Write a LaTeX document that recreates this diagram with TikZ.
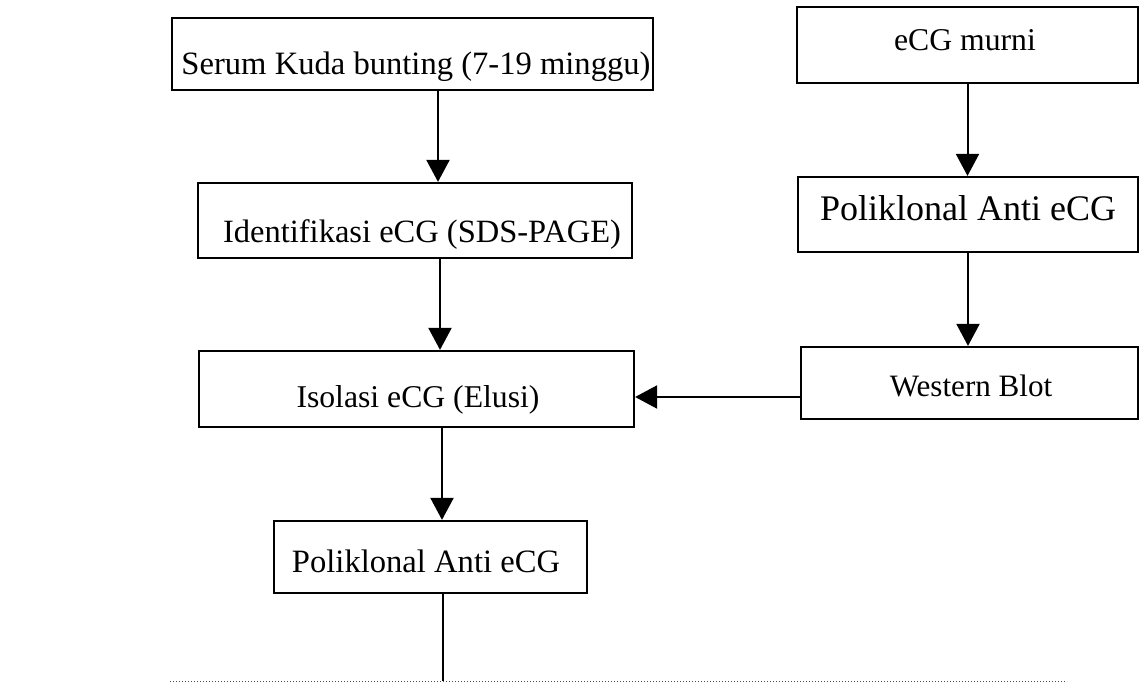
\documentclass[tikz,border=0pt]{standalone}
\usepackage{fontspec}
\setmainfont{Liberation Serif}
\usetikzlibrary{arrows.meta}
\tikzset{
  box/.style={draw, line width=2.2pt, rectangle, inner sep=0pt},
  lbl/.style={anchor=base, inner sep=0pt},
  arr/.style={line width=2pt, -{Triangle[width=23pt,length=22pt]}},
  plainline/.style={line width=2pt},
}
\begin{document}
\begin{tikzpicture}[x=1pt,y=-1pt]
\useasboundingbox (0,0) rectangle (1140,690);
% left column boxes
\node[box, minimum width=481pt, minimum height=72pt] (b1) at (412.5,54) {};
\node[box, minimum width=434pt, minimum height=75pt] (b2) at (415,220.5) {};
\node[box, minimum width=435pt, minimum height=76pt] (b3) at (416.5,389) {};
\node[box, minimum width=313pt, minimum height=72pt] (b4) at (430.5,557) {};
% right column boxes
\node[box, minimum width=341pt, minimum height=76pt] (r1) at (967.5,45) {};
\node[box, minimum width=340pt, minimum height=75pt] (r2) at (968,214.5) {};
\node[box, minimum width=337pt, minimum height=72pt] (r3) at (969.5,383) {};
% labels
\node[lbl, font=\fontsize{32.6}{38}\selectfont] (t1) at (416,75) {Serum Kuda bunting (7-19 minggu)};
\node[lbl, font=\fontsize{32.5}{38}\selectfont] (t2) at (422,242) {Identifikasi eCG (SDS-PAGE)};
\node[lbl, font=\fontsize{31.7}{38}\selectfont] (t3) at (418,407) {Isolasi eCG (Elusi)};
\node[lbl, font=\fontsize{32.6}{38}\selectfont] (t4) at (426,572) {Poliklonal Anti eCG};
\node[lbl, font=\fontsize{31.7}{38}\selectfont] (u1) at (965,51) {eCG murni};
\node[lbl, font=\fontsize{36}{42}\selectfont] (u2) at (968,220) {Poliklonal Anti eCG};
\node[lbl, font=\fontsize{31.1}{38}\selectfont] (u3) at (971,396) {Western Blot};
% connectors
\draw[arr] ([xshift=25.5pt]b1.south) -- ([xshift=25.5pt]b1.south |- b2.north);
\draw[arr] ([xshift=25pt]b2.south) -- ([xshift=25pt]b2.south |- b3.north);
\draw[arr] ([xshift=25.5pt]b3.south) -- ([xshift=25.5pt]b3.south |- b4.north);
\draw[arr] (r1.south) -- (r1.south |- r2.north);
\draw[arr] (r2.south) -- (r2.south |- r3.north);
\draw[arr] ([yshift=-14pt]r3.west) -- ([yshift=-14pt]r3.west -| b3.east);
% bottom line and dotted edge
\coordinate (dl) at (170,681);
\coordinate (dr) at (1067,681);
\coordinate (foot) at (443,681);
\draw[plainline] ([xshift=12.5pt]b4.south) -- (foot);
\draw[dotted, line width=1pt, black!70] (dl) -- (dr);
\end{tikzpicture}
\end{document}
